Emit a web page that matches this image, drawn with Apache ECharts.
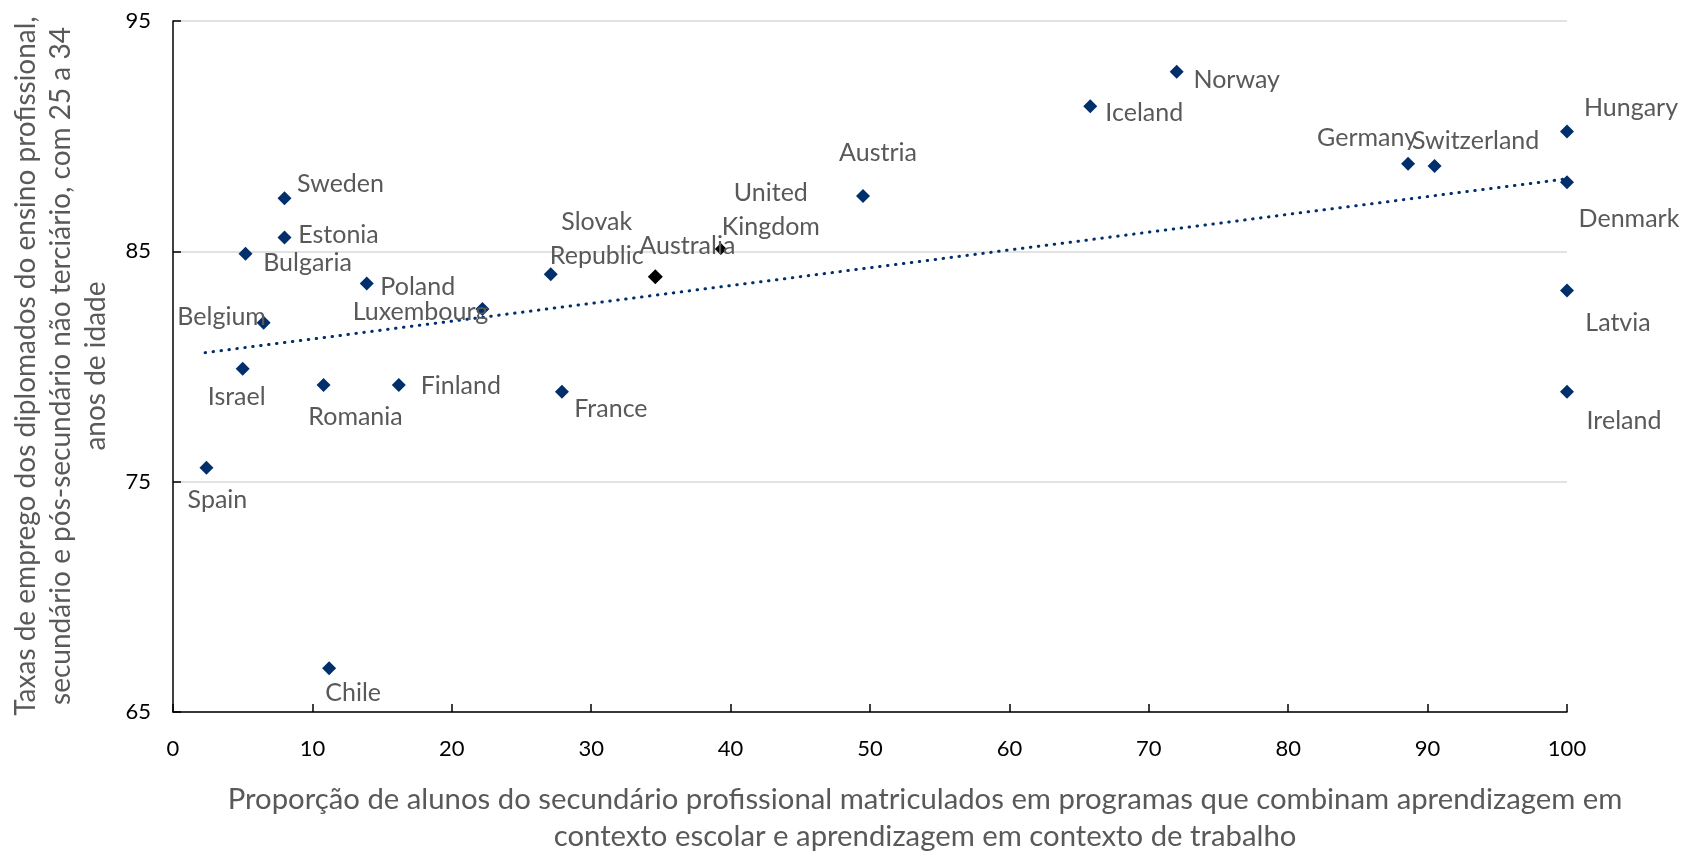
<!DOCTYPE html>
<html>
<head>
<meta charset="utf-8">
<script src="https://cdn.jsdelivr.net/npm/echarts@6/dist/echarts.min.js"></script>
<style>
  html, body { margin: 0; padding: 0; background: #fff; }
  #chart { width: 1682px; height: 851px; }
</style>
</head>
<body>
<div id="chart"></div>
<script>
// dados
var countries = ['Spain', 'Chile', 'Israel', 'Belgium', 'Bulgaria', 'Estonia', 'Sweden', 'Poland',
  'Romania', 'Finland', 'Luxembourg', 'Slovak Republic', 'France', 'Australia', 'United Kingdom',
  'Austria', 'Iceland', 'Norway', 'Germany', 'Switzerland', 'Hungary', 'Denmark', 'Latvia', 'Ireland'];
var workBasedShare = [2.4, 11.2, 5.0, 6.5, 5.2, 8.0, 8.0, 13.9,
  10.8, 16.2, 22.2, 27.1, 27.9, 34.6, 39.3,
  49.5, 65.8, 72.0, 88.6, 90.5, 100, 100, 100, 100];
var employmentRate = [75.6, 66.9, 79.9, 81.9, 84.9, 85.6, 87.3, 83.6,
  79.2, 79.2, 82.5, 84.0, 78.9, 83.9, 85.1,
  87.4, 91.3, 92.8, 88.8, 88.7, 90.2, 88.0, 83.3, 78.9];
var highlighted = ['Australia', 'United Kingdom'];
var trendX = [2.3, 100];
var trendY = [80.6, 88.15];
var yTicks = [65, 75, 85, 95];

// posição dos rótulos (deslocamento a partir do ponto, em px)
var labelOffset = {
  'Spain': [11, 32], 'Chile': [24, 25], 'Israel': [-6, 28], 'Belgium': [-42, -6],
  'Bulgaria': [62, 9], 'Estonia': [54, -3], 'Sweden': [56, -14], 'Poland': [51, 3],
  'Romania': [32, 32], 'Finland': [62, 1], 'Luxembourg': [-62, 3], 'Slovak Republic': [46, -35],
  'France': [49, 17], 'Australia': [32, -31], 'United Kingdom': [50, -39], 'Austria': [15, -43],
  'Iceland': [54, 7], 'Norway': [60, 8], 'Germany': [-41, -26], 'Switzerland': [41, -25],
  'Hungary': [64, -24], 'Denmark': [62, 37], 'Latvia': [51, 32], 'Ireland': [57, 29]
};
var multiLine = { 'Slovak Republic': 'Slovak\nRepublic', 'United Kingdom': 'United\nKingdom' };

var NAVY = '#002F6C';
var FONT = 'Lato';

var points = countries.map(function (c, i) {
  var isBlack = highlighted.indexOf(c) >= 0;
  return {
    name: c,
    value: [workBasedShare[i], employmentRate[i]],
    symbolSize: c === 'United Kingdom' ? 12 : (isBlack ? 15 : 14),
    itemStyle: { color: isBlack ? '#000' : NAVY, opacity: 1 },
    label: { offset: labelOffset[c] || [0, 0] }
  };
});

var myChart = echarts.init(document.getElementById('chart'));
var option = {
  animation: false,
  grid: { left: 173, right: 115, top: 21, bottom: 139 },
  xAxis: {
    type: 'value', min: 0, max: 100, interval: 10,
    axisLine: { show: true, lineStyle: { color: '#000', width: 1.5 } },
    axisTick: { show: true, inside: true, length: 8, lineStyle: { color: '#000', width: 1.5 } },
    splitLine: { show: false },
    axisLabel: { color: '#000', fontSize: 22, fontFamily: FONT, margin: 26 }
  },
  yAxis: {
    type: 'value', min: yTicks[0], max: yTicks[yTicks.length - 1], interval: 10,
    axisLine: { show: true, lineStyle: { color: '#000', width: 1.5 } },
    axisTick: { show: true, inside: true, length: 8, lineStyle: { color: '#000', width: 1.5 } },
    splitLine: { show: true, lineStyle: { color: '#d9d9d9', width: 1.5 } },
    axisLabel: { color: '#000', fontSize: 22, fontFamily: FONT, margin: 22 }
  },
  graphic: [
    {
      type: 'text', x: 61, y: 366, rotation: Math.PI / 2,
      style: {
        text: 'Taxas de emprego dos diplomados do ensino profissional,\nsecundário e pós-secundário não terciário, com 25 a 34\nanos de idade',
        align: 'center', verticalAlign: 'middle', lineHeight: 35,
        fill: '#595959', fontSize: 28, fontFamily: FONT
      }
    },
    {
      type: 'text', x: 925, y: 818,
      style: {
        text: 'Proporção de alunos do secundário profissional matriculados em programas que combinam aprendizagem em\ncontexto escolar e aprendizagem em contexto de trabalho',
        align: 'center', verticalAlign: 'middle', lineHeight: 36.7,
        fill: '#595959', fontSize: 29.3, fontFamily: FONT
      }
    }
  ],
  series: [
    {
      type: 'line',
      data: trendX.map(function (x, i) { return [x, trendY[i]]; }),
      symbol: 'none', silent: true, z: 1,
      lineStyle: { color: NAVY, width: 3, type: [0.5, 7.5], cap: 'round' }
    },
    {
      type: 'scatter',
      symbol: 'diamond',
      z: 2,
      data: points,
      label: {
        show: true, position: 'inside',
        align: 'center', verticalAlign: 'middle',
        color: '#595959', fontSize: 25, fontFamily: FONT, lineHeight: 34,
        textBorderWidth: 0,
        formatter: function (p) { return multiLine[p.name] || p.name; }
      }
    }
  ]
};
myChart.setOption(option, true);
</script>
</body>
</html>
